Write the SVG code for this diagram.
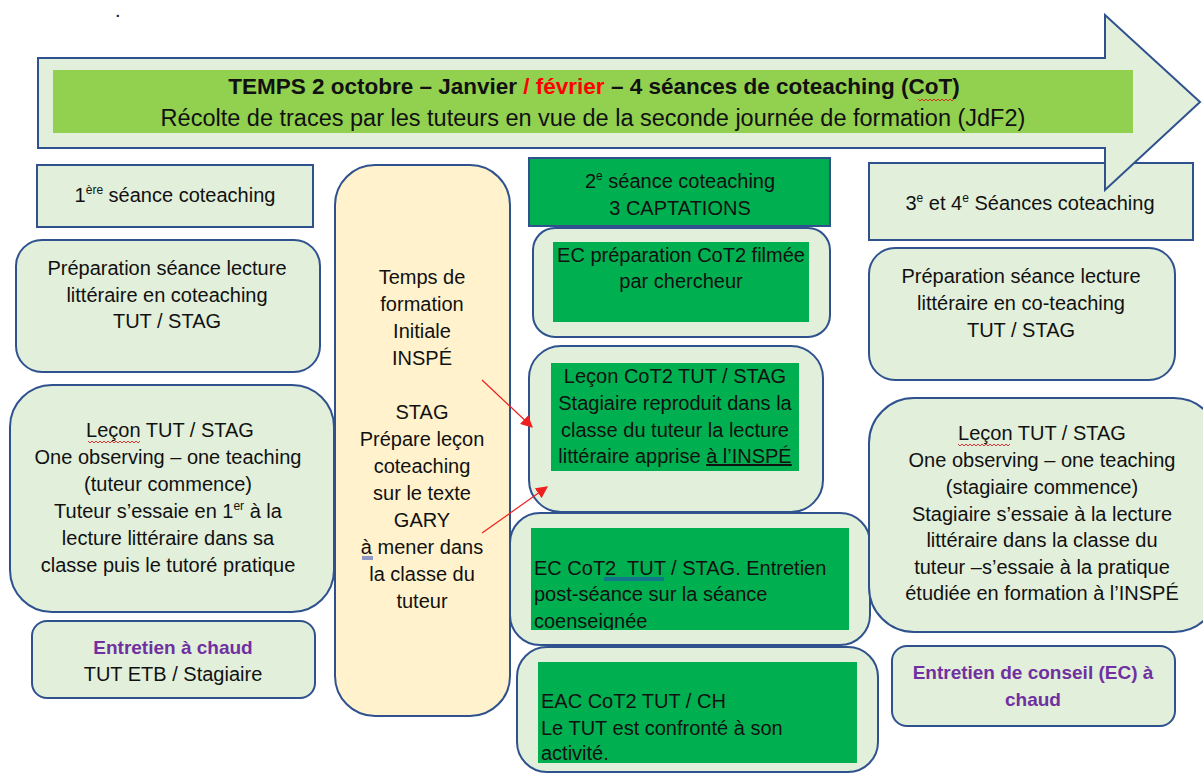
<svg xmlns="http://www.w3.org/2000/svg" width="1203" height="775" viewBox="0 0 1203 775">
<style>
.box{fill:#e2efda;stroke:#2f528f;stroke-width:2}
.yel{fill:#fff2cc;stroke:#2f528f;stroke-width:2}
.dg{fill:#00b050}
.t{font-family:"Liberation Sans",Arial,sans-serif;font-size:20px;fill:#111}
.c{text-anchor:middle}
.p{fill:#7030a0;font-weight:bold;font-size:19px}
.sup{font-size:12px}
.red{stroke:#f02020;stroke-width:1.2;fill:none}
.wavy{stroke:#e02020;stroke-width:0.9;fill:none}
.blu{stroke:#2040c0;stroke-width:1;fill:none}
</style>
<defs>
<marker id="ah" viewBox="0 0 10 10" refX="9" refY="5" markerWidth="12" markerHeight="12" markerUnits="userSpaceOnUse" orient="auto">
<path d="M0,0 L10,5 L0,10 z" fill="#f02020"/>
</marker>
<clipPath id="clipEC"><rect x="531" y="528" width="318" height="102"/></clipPath>
<clipPath id="clipEAC"><rect x="538" y="662" width="319" height="101"/></clipPath>
</defs>
<rect width="1203" height="775" fill="#fff"/>
<text class="t" x="115" y="17">.</text>

<g id="n-seance1">
<rect class="box" x="37" y="165" width="276" height="62"/>
<text class="t c" x="175" y="202">1<tspan class="sup" dy="-8">ère</tspan><tspan dy="8"> séance coteaching</tspan></text>
</g>
<g id="n-prep1">
<rect class="box" x="16" y="240" width="304" height="132" rx="26"/>
<text class="t c" x="167" y="275">Préparation séance lecture</text>
<text class="t c" x="167" y="302">littéraire en coteaching</text>
<text class="t c" x="167" y="328">TUT / STAG</text>
</g>
<g id="n-lecon1">
<rect class="box" x="10" y="385" width="324" height="227" rx="42"/>
<text class="t c" x="170" y="437">Leçon TUT / STAG</text>
<path class="wavy" d="M88,441 l2,2 l2,-2 l2,2 l2,-2 l2,2 l2,-2 l2,2 l2,-2 l2,2 l2,-2 l2,2 l2,-2 l2,2 l2,-2 l2,2 l2,-2 l2,2 l2,-2 l2,2 l2,-2 l2,2 l2,-2 l2,2 l2,-2 l2,2 l2,-2"/>
<text class="t c" x="168" y="464">One observing – one teaching</text>
<text class="t c" x="168" y="491">(tuteur commence)</text>
<text class="t c" x="168" y="518">Tuteur s’essaie en 1<tspan class="sup" dy="-8">er</tspan><tspan dy="8"> à la</tspan></text>
<text class="t c" x="168" y="545">lecture littéraire dans sa</text>
<text class="t c" x="168" y="572">classe puis le tutoré pratique</text>
</g>
<g id="n-chaud1">
<rect class="box" x="32" y="621" width="283" height="77" rx="15"/>
<text class="t c p" x="173" y="654">Entretien à chaud</text>
<text class="t c" x="173" y="681">TUT ETB / Stagiaire</text>
</g>

<g id="n-inspe">
<rect class="yel" x="335" y="165" width="175" height="551" rx="40"/>
<text class="t c" x="422" y="284">Temps de</text>
<text class="t c" x="422" y="311">formation</text>
<text class="t c" x="422" y="338">Initiale</text>
<text class="t c" x="422" y="365">INSPÉ</text>
<text class="t c" x="422" y="419">STAG</text>
<text class="t c" x="422" y="446">Prépare leçon</text>
<text class="t c" x="422" y="473">coteaching</text>
<text class="t c" x="422" y="500">sur le texte</text>
<text class="t c" x="422" y="527">GARY</text>
<text class="t c" x="422" y="554">à mener dans</text>
<path class="blu" d="M362,557 h11 M362,559 h11"/>
<text class="t c" x="422" y="581">la classe du</text>
<text class="t c" x="422" y="608">tuteur</text>
</g>

<g id="n-seance2">
<rect x="529" y="158" width="301" height="68" fill="#00b050" stroke="#2f528f" stroke-width="2"/>
<text class="t c" x="680" y="188">2<tspan class="sup" dy="-8">e</tspan><tspan dy="8"> séance coteaching</tspan></text>
<text class="t c" x="680" y="215">3 CAPTATIONS</text>
</g>
<g id="n-ecprep">
<rect class="box" x="533" y="228" width="297" height="109" rx="22"/>
<rect class="dg" x="553" y="242" width="256" height="80"/>
<text class="t c" x="681" y="262">EC préparation CoT2 filmée</text>
<text class="t c" x="681" y="288">par chercheur</text>
</g>
<g id="n-lecon2">
<rect class="box" x="529" y="346" width="294" height="166" rx="32"/>
<rect class="dg" x="551" y="363" width="248" height="108"/>
<text class="t c" x="675" y="383">Leçon CoT2 TUT / STAG</text>
<text class="t c" x="675" y="410">Stagiaire reproduit dans la</text>
<text class="t c" x="675" y="437">classe du tuteur la lecture</text>
<text class="t c" x="675" y="463">littéraire apprise <tspan text-decoration="underline">à l’INSPÉ</tspan></text>
</g>
<g id="n-ec2">
<rect class="box" x="510" y="513" width="360" height="132" rx="30"/>
<rect class="dg" x="531" y="528" width="318" height="102"/>
<g clip-path="url(#clipEC)">
<text class="t" x="534" y="575" style="white-space:pre">EC CoT2  TUT / STAG. Entretien</text>
<text class="t" x="534" y="601">post-séance sur la séance</text>
<text class="t" x="534" y="628">coenseignée</text>
</g>
<path class="blu" d="M604,578 h60 M604,580 h60"/>
</g>
<g id="n-eac2">
<rect class="box" x="517" y="647" width="361" height="125" rx="30"/>
<rect class="dg" x="538" y="662" width="319" height="101"/>
<g clip-path="url(#clipEAC)">
<text class="t" x="541" y="708">EAC CoT2 TUT / CH</text>
<text class="t" x="541" y="735">Le TUT est confronté à son</text>
<text class="t" x="541" y="760">activité.</text>
</g>
</g>

<g id="n-seance34">
<rect class="box" x="869" y="163" width="324" height="77"/>
<text class="t c" x="1030" y="210">3<tspan class="sup" dy="-8">e</tspan><tspan dy="8"> et 4</tspan><tspan class="sup" dy="-8">e</tspan><tspan dy="8"> Séances coteaching</tspan></text>
</g>
<g id="n-prep34">
<rect class="box" x="869" y="248" width="306" height="132" rx="26"/>
<text class="t c" x="1021" y="283">Préparation séance lecture</text>
<text class="t c" x="1021" y="310">littéraire en co-teaching</text>
<text class="t c" x="1021" y="337">TUT / STAG</text>
</g>
<g id="n-lecon34">
<rect class="box" x="869" y="398" width="350" height="234" rx="45"/>
<text class="t c" x="1042" y="440">Leçon TUT / STAG</text>
<path class="wavy" d="M958,444 l2,2 l2,-2 l2,2 l2,-2 l2,2 l2,-2 l2,2 l2,-2 l2,2 l2,-2 l2,2 l2,-2 l2,2 l2,-2 l2,2 l2,-2 l2,2 l2,-2 l2,2 l2,-2 l2,2 l2,-2 l2,2 l2,-2 l2,2 l2,-2"/>
<text class="t c" x="1042" y="467">One observing – one teaching</text>
<text class="t c" x="1042" y="494">(stagiaire commence)</text>
<text class="t c" x="1042" y="521">Stagiaire s’essaie à la lecture</text>
<text class="t c" x="1042" y="547">littéraire dans la classe du</text>
<text class="t c" x="1042" y="574">tuteur –s’essaie à la pratique</text>
<text class="t c" x="1042" y="600">étudiée en formation à l’INSPÉ</text>
</g>
<g id="n-chaud34">
<rect class="box" x="892" y="646" width="283" height="80" rx="15"/>
<text class="t c p" x="1033" y="679">Entretien de conseil (EC) à</text>
<text class="t c p" x="1033" y="706">chaud</text>
</g>

<g id="timeline">
<path d="M38,58 L1105,58 L1105,15 L1200,102 L1105,190 L1105,148 L38,148 Z" fill="#e2efda" stroke="#2f528f" stroke-width="2"/>
<rect x="53" y="70" width="1080" height="63" fill="#92d050"/>
<text class="t c" x="594" y="94" style="font-size:22.5px;font-weight:bold">TEMPS 2 octobre – Janvier <tspan fill="#ff0000">/ février</tspan> – 4 séances de coteaching (CoT)</text>
<path class="wavy" d="M918,99 l2,2 l2,-2 l2,2 l2,-2 l2,2 l2,-2 l2,2 l2,-2 l2,2 l2,-2 l2,2 l2,-2 l2,2 l2,-2 l2,2 l2,-2 l2,2 l2,-2"/>
<text class="t c" x="593" y="126" style="font-size:23.5px">Récolte de traces par les tuteurs en vue de la seconde journée de formation (JdF2)</text>
</g>

<g id="connectors">
<line class="red" x1="482" y1="380" x2="532" y2="427" marker-end="url(#ah)"/>
<line class="red" x1="482" y1="533" x2="547" y2="487" marker-end="url(#ah)"/>
</g>
</svg>
